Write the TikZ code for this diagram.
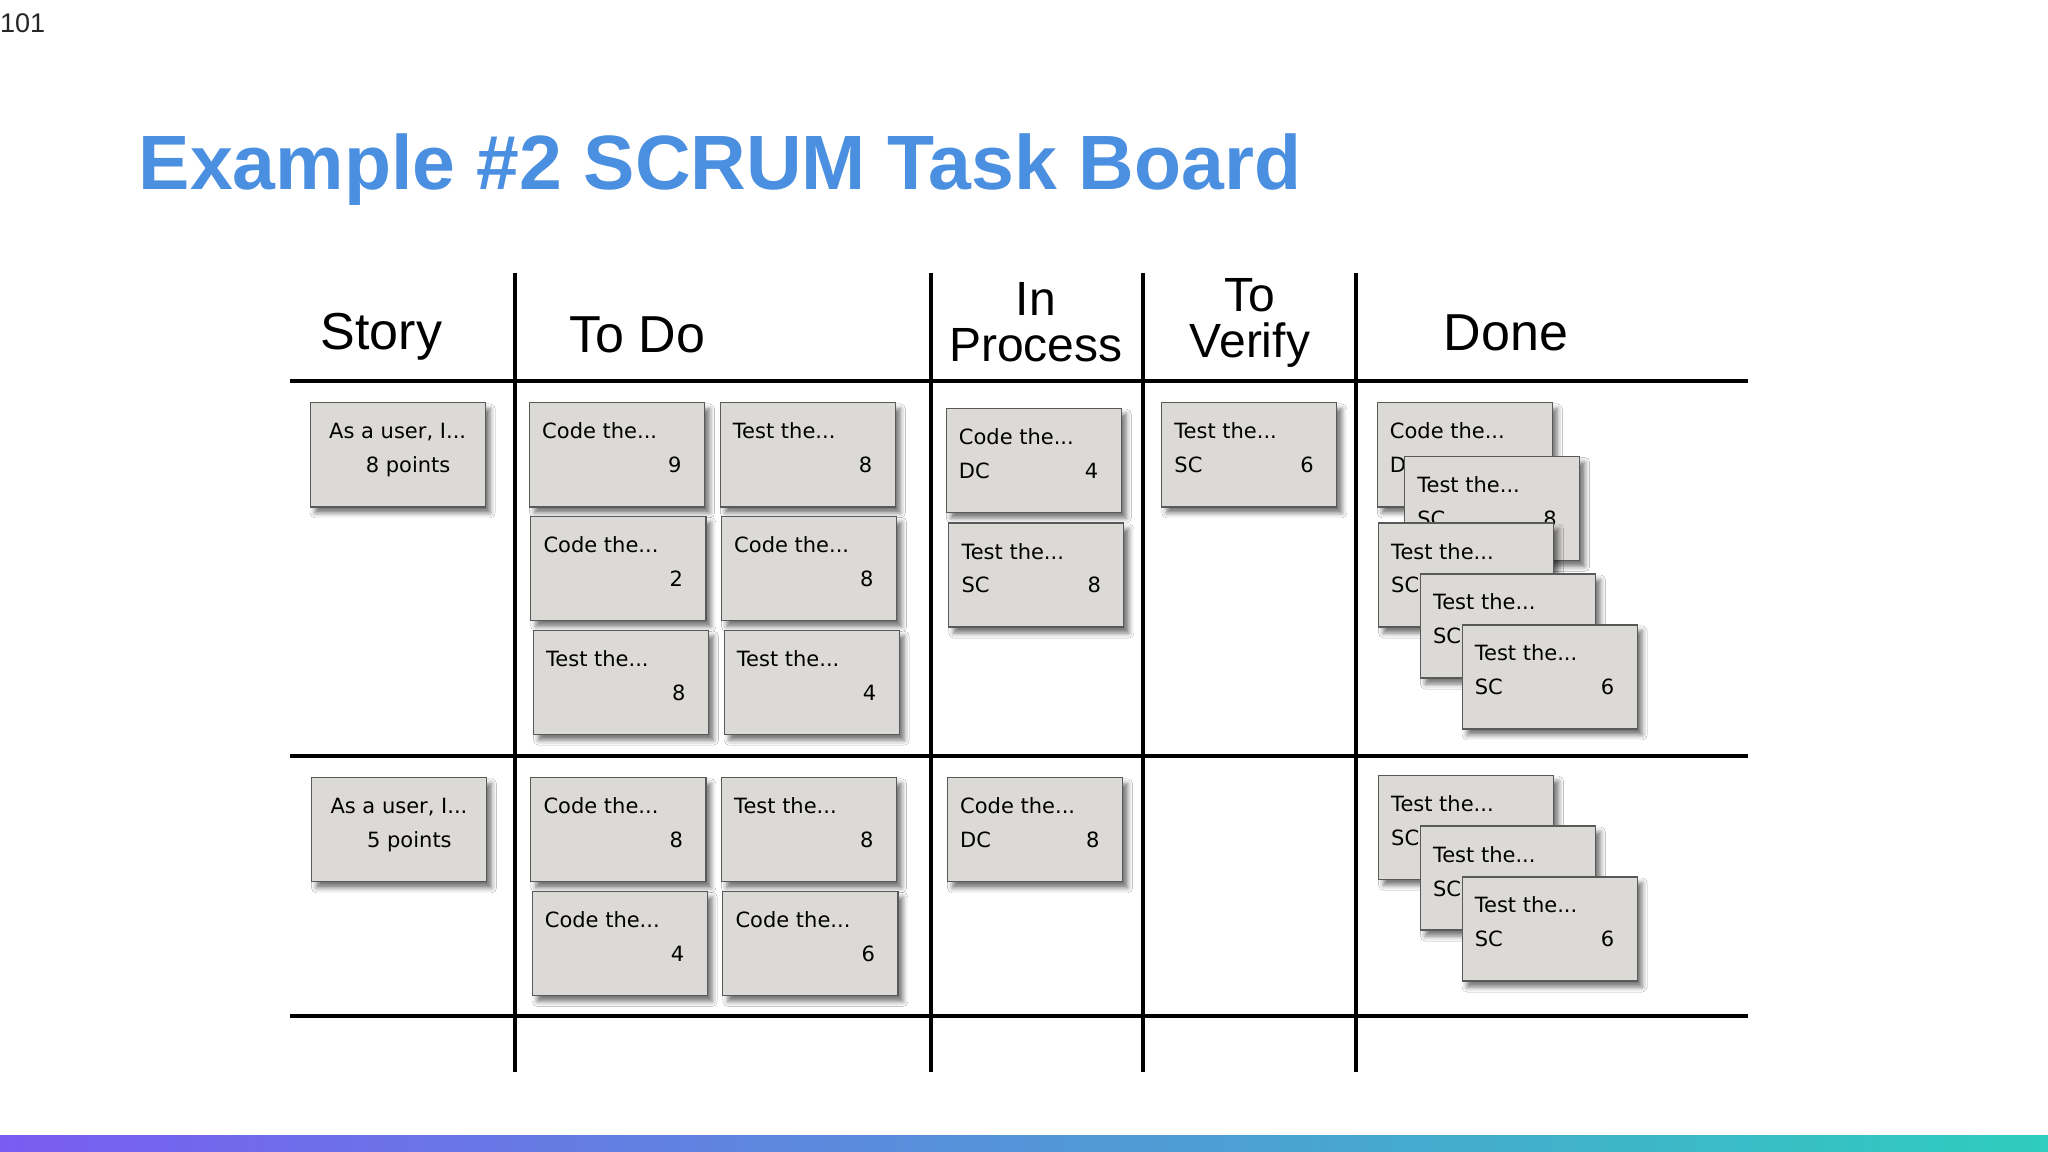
\documentclass[tikz,border=0pt]{standalone}
\usepackage{fontspec}
\setmainfont{Liberation Sans}
\newfontfamily\cardfont{DejaVu Sans}
\usetikzlibrary{shadows.blur,calc}
\definecolor{titleblue}{HTML}{4A8FE0}
\definecolor{cardgray}{HTML}{DCDAD6}
\definecolor{barL}{HTML}{7A5CF2}
\definecolor{barR}{HTML}{2ECDBE}
\tikzset{
  board/.style={line width=4pt,black},
  hdr/.style={font=\fontsize{52}{54}\selectfont,align=center},
  card/.style={draw=black!65,line width=1.2pt,fill=cardgray,minimum width=175pt,minimum height=104pt,anchor=north west,inner sep=0pt,
    blur shadow={shadow xshift=5pt,shadow yshift=-6pt,shadow blur radius=5pt,shadow opacity=55}},
  ctxt/.style={font=\cardfont\fontsize{21}{23}\selectfont,inner sep=0pt}
}
\newcommand\mycard[5]{%
  \node[card] (#1) at (#2) {};
  \node[ctxt,anchor=base west] (#1a) at ($(#1.north west)+(10,28)$) {#3};
  \node[ctxt,anchor=base west] (#1b) at ($(#1.north west)+(10,54)$) {#4};
  \node[ctxt,anchor=base east] (#1c) at ($(#1.north west)+(117,54)$) {#5};}
\begin{document}
\begin{tikzpicture}[x=1.306pt,y=-1.306pt]
\useasboundingbox (0,0) rectangle (1568,882);
\fill[white] (0,0) rectangle (1568,882);
\shade[left color=barL,right color=barR] (0,869) rectangle (1568,882);
\node[anchor=west,font=\fontsize{27}{29}\selectfont,text=black!85,inner sep=0pt] (pg) at (0,18) {101};
\node[anchor=west,font=\bfseries\fontsize{77}{80}\selectfont,text=titleblue,inner sep=0pt] (title) at (106,130) {Example \#2 SCRUM Task Board};
% board lines
\coordinate (h1a) at (222,292); \coordinate (h1b) at (1338,292);
\coordinate (h2a) at (222,579); \coordinate (h2b) at (1338,579);
\coordinate (h3a) at (222,778); \coordinate (h3b) at (1338,778);
\draw[board] (h1a)--(h1b); \draw[board] (h2a)--(h2b); \draw[board] (h3a)--(h3b);
\foreach \x/\n in {394/v1,713/v2,875/v3,1038/v4}{
  \coordinate (\n a) at (\x,209); \coordinate (\n b) at (\x,821);
  \draw[board] (\n a)--(\n b);}
% headers
\node[hdr] (hs) at (292,258) {Story};
\node[hdr] (ht) at (488,256) {To Do};
\node[hdr,font=\fontsize{48}{46}\selectfont] (hp) at (793,247) {In\\Process};
\node[hdr,font=\fontsize{48}{46}\selectfont] (hv) at (957,247) {To\\Verify};
\node[hdr] (hd) at (1153,255) {Done};
% story cards
\node[card] (s1) at (237,308) {};
\node[ctxt,anchor=base] (s1a) at ($(s1.north)+(0,28)$) {As a user, I...};
\node[ctxt,anchor=base] (s1b) at ($(s1.north)+(8,54)$) {8 points};
\node[card] (s2) at (238,595) {};
\node[ctxt,anchor=base] (s2a) at ($(s2.north)+(0,28)$) {As a user, I...};
\node[ctxt,anchor=base] (s2b) at ($(s2.north)+(8,54)$) {5 points};
% to do
\mycard{t1}{405,308}{Code the...}{}{9}
\mycard{t2}{551,308}{Test the...}{}{8}
\mycard{t3}{406,395}{Code the...}{}{2}
\mycard{t4}{552,395}{Code the...}{}{8}
\mycard{t5}{408,482}{Test the...}{}{8}
\mycard{t6}{554,482}{Test the...}{}{4}
\mycard{t7}{406,595}{Code the...}{}{8}
\mycard{t8}{552,595}{Test the...}{}{8}
\mycard{t9}{407,682}{Code the...}{}{4}
\mycard{t10}{553,682}{Code the...}{}{6}
% in process
\mycard{p1}{724,312}{Code the...}{DC}{4}
\mycard{p2}{726,400}{Test the...}{SC}{8}
\mycard{p3}{725,595}{Code the...}{DC}{8}
% to verify
\mycard{q1}{889,308}{Test the...}{SC}{6}
% done
\mycard{d1}{1054,308}{Code the...}{DC}{4}
\mycard{d2}{1075,349}{Test the...}{SC}{8}
\mycard{d3}{1055,400}{Test the...}{SC}{8}
\mycard{d4}{1087,439}{Test the...}{SC}{8}
\mycard{d5}{1119,478}{Test the...}{SC}{6}
\mycard{d6}{1055,593}{Test the...}{SC}{8}
\mycard{d7}{1087,632}{Test the...}{SC}{8}
\mycard{d8}{1119,671}{Test the...}{SC}{6}
\end{tikzpicture}
\end{document}
